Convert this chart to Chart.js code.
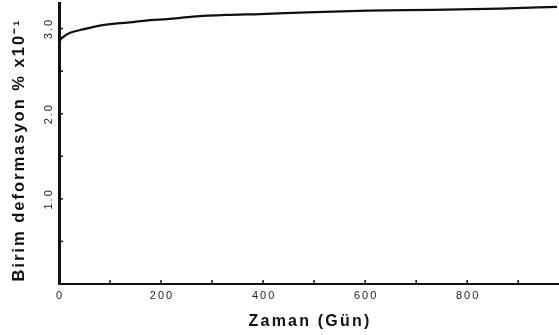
<!DOCTYPE html>
<html>
<head>
<meta charset="utf-8">
<script src="https://cdn.jsdelivr.net/npm/chart.js@4"></script>
<style>
html,body{margin:0;padding:0;background:#fff;}
#wrap{width:559px;height:335px;position:relative;}
</style>
</head>
<body>
<div id="wrap"><canvas id="c" width="559" height="335"></canvas></div>
<script>
// Data
const days   = [0, 3, 8, 22, 47, 80, 114, 145, 178, 212, 263, 329, 394, 486, 604, 733, 865, 976];
const strain = [2.835, 2.87, 2.90, 2.95, 2.99, 3.035, 3.06, 3.075, 3.10, 3.11, 3.14, 3.16, 3.17, 3.19, 3.21, 3.22, 3.235, 3.255];
const xTickLabels = [0, 200, 400, 600, 800];
const yTickLabels = [1.0, 2.0, 3.0];
const xTitle = 'Zaman (Gün)';
const yTitle = 'Birim deformasyon % x10⁻¹';

const points = days.map((d, i) => ({x: d, y: strain[i]}));

const axisPlugin = {
  id: 'axisDeco',
  afterDraw(chart) {
    const ctx = chart.ctx;
    const xs = chart.scales.x, ys = chart.scales.y;
    const a = chart.chartArea;
    ctx.save();
    ctx.strokeStyle = '#111';
    ctx.lineWidth = 1.5;
    // x minor ticks every 100 pointing up
    for (let v = 100; v <= 900; v += 100) {
      const px = xs.getPixelForValue(v);
      ctx.beginPath(); ctx.moveTo(px, a.bottom); ctx.lineTo(px, a.bottom - 4); ctx.stroke();
    }
    // y ticks every 0.5 pointing right
    for (let v = 0.5; v <= 3.0001; v += 0.5) {
      const py = ys.getPixelForValue(v);
      ctx.beginPath(); ctx.moveTo(a.left, py); ctx.lineTo(a.left + 4, py); ctx.stroke();
    }
    // x tick labels
    ctx.fillStyle = '#222';
    ctx.font = '11px "Liberation Sans", Arial, sans-serif';
    ctx.letterSpacing = '2px';
    ctx.textAlign = 'center';
    ctx.textBaseline = 'middle';
    xTickLabels.forEach(v => {
      const px = xs.getPixelForValue(v);
      ctx.fillText(String(v), px + 1, a.bottom + 12);
    });
    // y tick labels (rotated)
    yTickLabels.forEach(v => {
      const py = ys.getPixelForValue(v);
      ctx.save();
      ctx.translate(a.left - 10, py);
      ctx.rotate(-Math.PI / 2);
      ctx.fillText(v.toFixed(1), 0, 0);
      ctx.restore();
    });
    // x title
    ctx.fillStyle = '#111';
    ctx.font = 'bold 16px "Liberation Sans", Arial, sans-serif';
    ctx.letterSpacing = '2.2px';
    ctx.fillText(xTitle, (a.left + a.right) / 2 + 1, 322);
    // y title
    ctx.save();
    ctx.translate(19, 150);
    ctx.rotate(-Math.PI / 2);
    ctx.font = 'bold 16.5px "Liberation Sans", Arial, sans-serif';
    ctx.letterSpacing = '2px';
    ctx.fillText(yTitle, 0, 0);
    ctx.restore();
    ctx.restore();
  }
};

new Chart(document.getElementById('c'), {
  type: 'line',
  data: {
    datasets: [{
      data: points,
      borderColor: '#111',
      borderWidth: 2.2,
      pointRadius: 0,
      cubicInterpolationMode: 'monotone',
      fill: false
    }]
  },
  options: {
    responsive: false,
    animation: false,
    events: [],
    layout: {padding: {top: 3, right: 0, left: 0, bottom: 0}},
    plugins: {legend: {display: false}, tooltip: {enabled: false}},
    scales: {
      x: {
        type: 'linear', min: 0, max: 980,
        grid: {display: false},
        border: {display: true, color: '#111', width: 2},
        ticks: {display: false},
        afterFit(s) { s.height = 51; }
      },
      y: {
        type: 'linear', min: 0, max: 3.3,
        grid: {display: false},
        border: {display: true, color: '#111', width: 3},
        ticks: {display: false},
        afterFit(s) { s.width = 59; }
      }
    }
  },
  plugins: [axisPlugin]
});
</script>
</body>
</html>
